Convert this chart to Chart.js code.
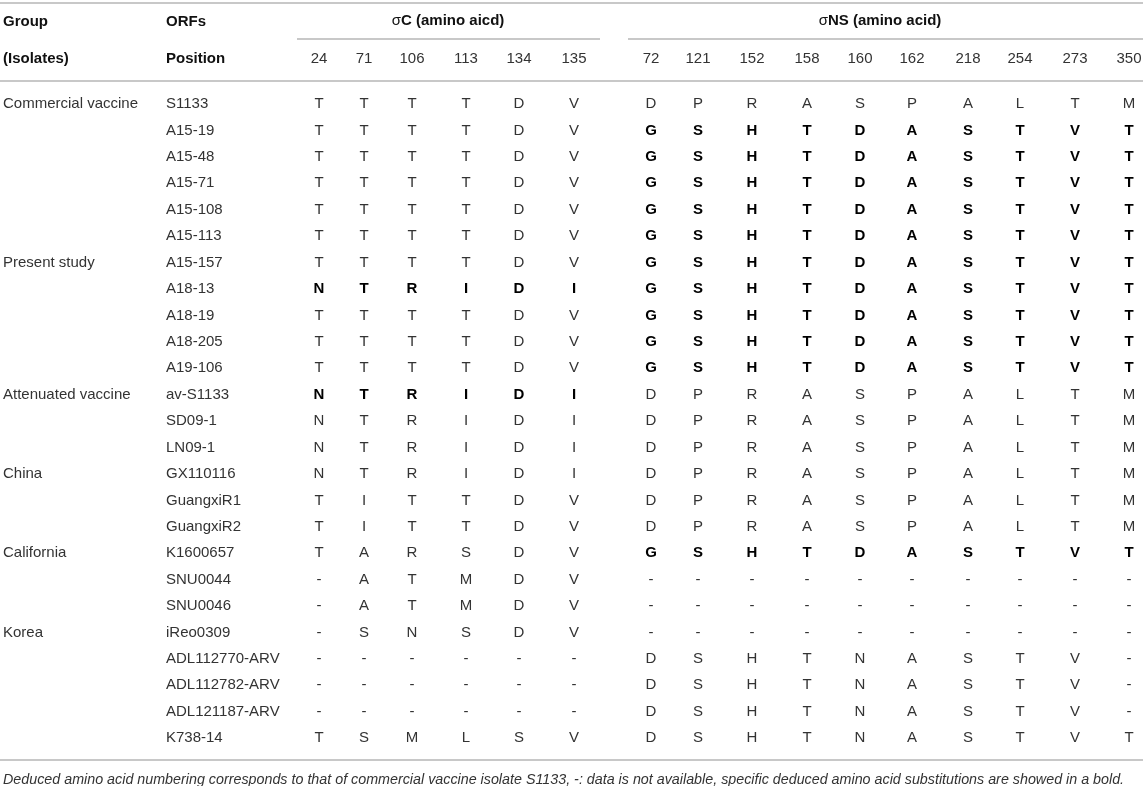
<!DOCTYPE html>
<html>
<head>
<meta charset="utf-8">
<script src="https://cdn.jsdelivr.net/npm/chart.js@4.4.1/dist/chart.umd.min.js"></script>
<style>
  html, body { margin: 0; padding: 0; background: #fff; }
  #wrap { width: 1143px; height: 786px; }
</style>
</head>
<body>
<div id="wrap"><canvas id="table" width="1143" height="786"></canvas></div>
<script>
// table values
const groupLabels = ['Commercial vaccine', '', '', '', '', '', 'Present study', '', '', '', '',
  'Attenuated vaccine', '', '', 'China', '', '', 'California', '', '', 'Korea', '', '', '', ''];
const isolates = ['S1133', 'A15-19', 'A15-48', 'A15-71', 'A15-108', 'A15-113', 'A15-157', 'A18-13',
  'A18-19', 'A18-205', 'A19-106', 'av-S1133', 'SD09-1', 'LN09-1', 'GX110116', 'GuangxiR1',
  'GuangxiR2', 'K1600657', 'SNU0044', 'SNU0046', 'iReo0309', 'ADL112770-ARV', 'ADL112782-ARV',
  'ADL121187-ARV', 'K738-14'];
const sigmaCPositions = ['24', '71', '106', '113', '134', '135'];
const sigmaNSPositions = ['72', '121', '152', '158', '160', '162', '218', '254', '273', '350'];
const sigmaCResidues = ['TTTTDV', 'TTTTDV', 'TTTTDV', 'TTTTDV', 'TTTTDV', 'TTTTDV', 'TTTTDV',
  'NTRIDI', 'TTTTDV', 'TTTTDV', 'TTTTDV', 'NTRIDI', 'NTRIDI', 'NTRIDI', 'NTRIDI', 'TITTDV',
  'TITTDV', 'TARSDV', '-ATMDV', '-ATMDV', '-SNSDV', '------', '------', '------', 'TSMLSV'];
const sigmaNSResidues = ['DPRASPALTM', 'GSHTDASTVT', 'GSHTDASTVT', 'GSHTDASTVT', 'GSHTDASTVT',
  'GSHTDASTVT', 'GSHTDASTVT', 'GSHTDASTVT', 'GSHTDASTVT', 'GSHTDASTVT', 'GSHTDASTVT',
  'DPRASPALTM', 'DPRASPALTM', 'DPRASPALTM', 'DPRASPALTM', 'DPRASPALTM', 'DPRASPALTM',
  'GSHTDASTVT', '----------', '----------', '----------', 'DSHTNASTV-', 'DSHTNASTV-',
  'DSHTNASTV-', 'DSHTNASTVT'];
const boldCRows = [7, 11];
const boldNSRows = [1, 2, 3, 4, 5, 6, 7, 8, 9, 10, 17];
const footnote = 'Deduced amino acid numbering corresponds to that of commercial vaccine isolate S1133, -: data is not available, specific deduced amino acid substitutions are showed in a bold.';

// layout (x in px along the hidden x scale, y in row units)
const groupX = 3;
const isolateX = 166;
const sigmaCX = [319, 364, 412, 466, 519, 574];
const sigmaNSX = [651, 698, 752, 807, 860, 912, 968, 1020, 1075, 1129];
const headRow1 = -3.1;
const headRow2 = -1.7;
const FONT = '"Liberation Sans", Arial, Helvetica, sans-serif';

const textCol = (xPos, texts, align, boldRows) => ({
  data: texts.map((t, i) => ({ x: xPos, y: i, text: t, bold: boldRows ? boldRows.includes(i) : false })),
  align: align,
  pointRadius: 0,
  pointHoverRadius: 0
});

const datasets = [
  textCol(groupX, groupLabels, 'left'),
  textCol(isolateX, isolates, 'left')
];
sigmaCX.forEach((x, j) => {
  datasets.push(textCol(x, sigmaCResidues.map(r => r[j]), 'center', boldCRows));
});
sigmaNSX.forEach((x, j) => {
  datasets.push(textCol(x, sigmaNSResidues.map(r => r[j]), 'center', boldNSRows));
});

const tablePlugin = {
  id: 'tablePlugin',
  afterDatasetsDraw(chart) {
    const ctx = chart.ctx;
    const xs = chart.scales.x;
    const ys = chart.scales.y;
    const X = v => xs.getPixelForValue(v);
    const Y = v => ys.getPixelForValue(v);
    ctx.save();

    // rules
    ctx.strokeStyle = '#c8c8c8';
    ctx.lineWidth = 2;
    const rule = (x0, x1, y) => {
      ctx.beginPath();
      ctx.moveTo(X(x0), Math.round(Y(y)));
      ctx.lineTo(X(x1), Math.round(Y(y)));
      ctx.stroke();
    };
    rule(0, 1143, -3.82);
    rule(297, 600, -2.46);
    rule(628, 1143, -2.46);
    rule(0, 1143, -0.89);
    rule(0, 1143, 24.84);

    ctx.textBaseline = 'middle';

    // header
    ctx.fillStyle = '#111';
    ctx.font = 'bold 15px ' + FONT;
    ctx.textAlign = 'left';
    ctx.fillText('Group', X(groupX), Y(headRow1));
    ctx.fillText('ORFs', X(isolateX), Y(headRow1));
    ctx.fillText('(Isolates)', X(groupX), Y(headRow2));
    ctx.fillText('Position', X(isolateX), Y(headRow2));

    const spanTitle = (greek, rest, cx) => {
      ctx.font = '15px ' + FONT;
      const w1 = ctx.measureText(greek).width;
      ctx.font = 'bold 15px ' + FONT;
      const w2 = ctx.measureText(rest).width;
      let x = X(cx) - (w1 + w2) / 2;
      ctx.textAlign = 'left';
      ctx.font = '15px ' + FONT;
      ctx.fillText(greek, x, Y(headRow1) - 1);
      ctx.font = 'bold 15px ' + FONT;
      ctx.fillText(rest, x + w1, Y(headRow1) - 1);
    };
    spanTitle('σ', 'C (amino aicd)', 448);
    spanTitle('σ', 'NS (amino acid)', 880);

    ctx.font = '15px ' + FONT;
    ctx.fillStyle = '#333';
    ctx.textAlign = 'center';
    sigmaCPositions.forEach((p, j) => ctx.fillText(p, X(sigmaCX[j]), Y(headRow2)));
    sigmaNSPositions.forEach((p, j) => ctx.fillText(p, X(sigmaNSX[j]), Y(headRow2)));

    // body cells, placed by the chart's own point elements
    chart.data.datasets.forEach((ds, di) => {
      const meta = chart.getDatasetMeta(di);
      ctx.textAlign = ds.align;
      meta.data.forEach((el, i) => {
        const cell = ds.data[i];
        if (!cell.text) return;
        ctx.font = (cell.bold ? 'bold ' : '') + '15px ' + FONT;
        ctx.fillStyle = cell.bold ? '#000' : '#333';
        ctx.fillText(cell.text, el.x, el.y);
      });
    });

    // footnote
    ctx.font = 'italic 14.3px ' + FONT;
    ctx.fillStyle = '#333';
    ctx.textAlign = 'left';
    ctx.fillText(footnote, X(groupX), Y(25.6));
    ctx.restore();
  }
};

new Chart(document.getElementById('table'), {
  type: 'scatter',
  data: { datasets: datasets },
  options: {
    responsive: false,
    animation: false,
    events: [],
    layout: { padding: 0 },
    plugins: { legend: { display: false }, tooltip: { enabled: false } },
    scales: {
      x: { type: 'linear', display: false, min: 0, max: 1143 },
      y: { type: 'linear', display: false, min: -3.94, max: 25.81, reverse: true }
    }
  },
  plugins: [tablePlugin]
});
</script>
</body>
</html>
